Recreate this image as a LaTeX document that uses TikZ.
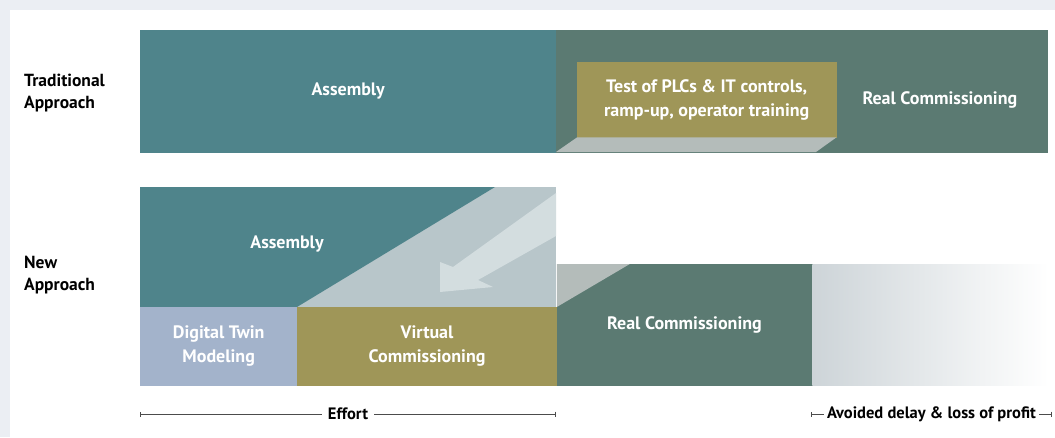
\documentclass[tikz,border=0pt]{standalone}
\usepackage{fontspec}
\setmainfont{PT Sans}
\usetikzlibrary{positioning,arrows.meta,calc}

\definecolor{panelgrey}{HTML}{EBEEF3}
\definecolor{asmteal}{HTML}{4F848B}
\definecolor{rcgreen}{HTML}{5B7A72}
\definecolor{vcolive}{HTML}{9F9658}
\definecolor{twinblue}{HTML}{A3B3CB}
\definecolor{shiftgrey}{HTML}{B8C6CA}
\definecolor{shiftarrow}{HTML}{D3DDDF}
\definecolor{shadegrey}{HTML}{B4BCBA}
\definecolor{gapgrey}{HTML}{CDD4D8}

\tikzset{
  phase/.style={inner sep=0pt, align=center, text=white,
    font=\bfseries\fontsize{18}{24}\selectfont},
  tone/.style={fill=#1, draw=#1, line width=0.4pt},
  rowlabel/.style={anchor=north west, inner sep=0pt, align=left,
    font=\bfseries\fontsize{17.5}{22}\selectfont},
  span/.style={{Bar[width=5pt]}-{Bar[width=5pt]}, line width=0.6pt, black!70},
  spanlabel/.style={fill=white, inner xsep=6pt, inner ysep=2pt,
    font=\bfseries\fontsize{16.5}{18}\selectfont},
}

\begin{document}
\begin{tikzpicture}[x=1pt,y=-1pt]
\fill[panelgrey] (0,0) rectangle (1055,437);
\fill[white] (10,10) rectangle (1055,437);
\useasboundingbox (0,0) rectangle (1055,437);

% traditional approach
\node[rowlabel] (tradlabel) at (24,74) {Traditional\\Approach};
\node[phase, tone=asmteal, minimum width=416pt, minimum height=122pt,
  anchor=north west] (asmold) at (140,30) {Assembly};
\node[phase, tone=rcgreen, minimum width=491pt, minimum height=122pt,
  anchor=north west] (rcold) at (asmold.north east) {};
\node[phase, tone=vcolive, minimum width=259pt, minimum height=75pt,
  anchor=north west] (test) at (577,62) {Test of PLCs \& IT controls,\\ramp-up, operator training};
\fill[shadegrey] (test.south west) -- (test.south east) -- (816,152) -- (556,152) -- cycle;
\node[phase, right=26pt of test] (rcoldtext) {Real Commissioning};

% new approach
\node[rowlabel] (newlabel) at (24,256) {New\\Approach};
\fill[shiftgrey] (140,187) rectangle (556,307);
\fill[asmteal] (140,187) -- (495,187) -- (297,307) -- (140,307) -- cycle;
\fill[shiftarrow] (556,193) -- (453,267) -- (440,262) -- (440,292)
  -- (493,287) -- (478,280) -- (556,236) -- cycle;
\node[phase] (asmnew) at (287,244) {Assembly};
\node[phase, tone=twinblue, minimum width=157pt, minimum height=78pt,
  anchor=north west] (twin) at (140,307) {Digital Twin\\Modeling};
\node[phase, tone=vcolive, minimum width=259pt, minimum height=78pt,
  right=0pt of twin] (virt) {Virtual\\Commissioning};
\node[phase, tone=rcgreen, minimum width=255pt, minimum height=121pt,
  anchor=south west] (rcnew) at (virt.south east) {Real Commissioning};
\fill[shadegrey] (rcnew.north west) -- ++(73,0) -- (virt.north east) -- cycle;
\node[inner sep=0pt, minimum width=236pt, minimum height=121pt,
  left color=gapgrey, right color=white, anchor=south west] (gap) at (rcnew.south east) {};

% spans
\coordinate (effs) at (140,414);
\coordinate (effe) at (556,414);
\draw[span] (effs) -- (effe);
\node[spanlabel] (effort) at ($(effs)!0.5!(effe)$) {Effort};
\coordinate (gaps) at (811,414);
\coordinate (gape) at (1052,414);
\draw[span] (gaps) -- (gape);
\node[spanlabel, inner xsep=3pt] (avoided) at ($(gaps)!0.5!(gape)$) {Avoided delay \& loss of profit};
\end{tikzpicture}
\end{document}
